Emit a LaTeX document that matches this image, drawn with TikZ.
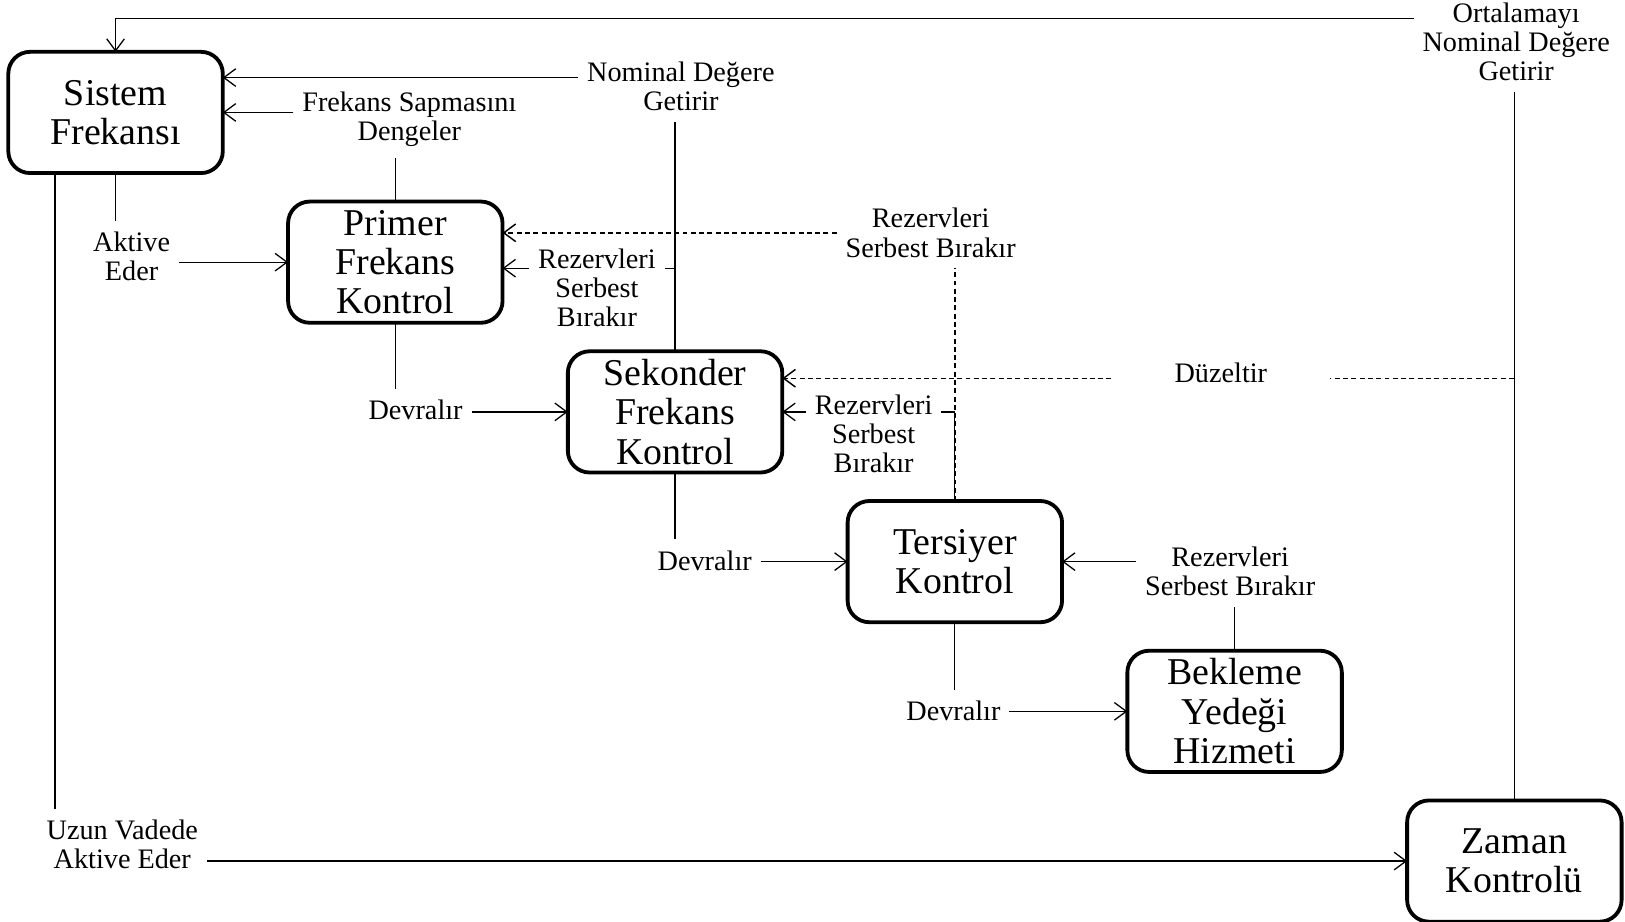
\documentclass[tikz,border=0pt]{standalone}
\usepackage{fontspec}
\setmainfont{Liberation Serif}
\usetikzlibrary{arrows.meta,positioning}

\begin{document}
\begin{tikzpicture}[x=0.02cm, y=-0.02cm, line width=0.7pt,
            kutu/.style={rectangle, draw=black, line width=2.1pt, rounded corners=0.42cm,
            minimum width=4.14cm, minimum height=2.34cm, inner sep=0pt, outer sep=0pt, align=center,
            font=\fontsize{20.8}{21.6}\selectfont},
            etiket/.style={align=center, inner xsep=0.16cm, inner ysep=0.2cm, anchor=base,
            font=\fontsize{15.5}{16}\selectfont},
            ok/.style={-{Straight Barb[length=2.3mm, width=3.4mm]}},
            kesik/.style={line width=0.8pt, dash pattern=on 0.95mm off 0.65mm}]
            \useasboundingbox (0,0) rectangle (1568,889);

            \node (sistem) [kutu] at (111.5,108.5) {Sistem\\Frekansı};
            \node (primer) [kutu, below right=0.55cm and 1.26cm of sistem] {Primer\\Frekans\\Kontrol};
            \node (sekonder) [kutu, below right=0.55cm and 1.26cm of primer] {Sekonder\\Frekans\\Kontrol};
            \node (tersiyer) [kutu, below right=0.55cm and 1.26cm of sekonder] {Tersiyer\\Kontrol};
            \node (bekleme) [kutu, below right=0.55cm and 1.26cm of tersiyer] {Bekleme\\Yedeği\\Hizmeti};
            \node (zaman) [kutu, below right=0.55cm and 1.26cm of bekleme] {Zaman\\Kontrolü};

            % etiketler: base = son satirin taban cizgisi
            \node (ortalama) [etiket] at (1463,78) {Ortalamayı\\Nominal Değere\\Getirir};
            \node (nominal) [etiket] at (657,107) {Nominal Değere\\Getirir};
            \node (sapma) [etiket] at (395,136) {Frekans Sapmasını\\Dengeler};
            \node (aktive) [etiket] at (127,271) {Aktive\\Eder};
            \node (rez1) [etiket] at (576,315) {Rezervleri\\Serbest\\Bırakır};
            \node (rez2) [etiket] at (898,248) {Rezervleri\\Serbest Bırakır};
            \node (duzeltir) [etiket, minimum width=4.2cm] at (1178,369) {Düzeltir};
            \node (rez3) [etiket] at (843,456) {Rezervleri\\Serbest\\Bırakır};
            \node (devr1) [etiket] at (401,405) {Devralır};
            \node (devr2) [etiket] at (680,550) {Devralır};
            \node (devr3) [etiket] at (920,695) {Devralır};
            \node (rez4) [etiket] at (1187,575) {Rezervleri\\Serbest Bırakır};
            \node (uzun) [etiket] at (118,838) {Uzun Vadede\\Aktive Eder};

            \coordinate (ortw) at ([yshift=32pt]ortalama.mid west);
            \coordinate (nomw) at ([yshift=16pt]nominal.mid west);
            \coordinate (rez1bw) at ([yshift=32pt]rez1.base west);
            \coordinate (rez1be) at ([yshift=32pt]rez1.base east);

            \draw [ok] (ortw) -| (sistem.north);
            \draw (zaman.north) -- (zaman.north |- ortalama.south);
            \draw [kesik] (zaman.north) -- (zaman.north |- duzeltir.mid east) -- (duzeltir.mid east);
            \draw [kesik, ok] (duzeltir.mid west) -- (sekonder.east |- duzeltir.mid west);

            \draw [ok] (nomw) -- (sistem.east |- nomw);
            \draw (sekonder.north) -- (sekonder.north |- nominal.south);
            \draw [ok] (sapma.west |- sistem.east) -- (sistem.east);
            \draw (primer.north) -- (primer.north |- sapma.south);
            \draw (sistem.south) -- (sistem.south |- aktive.north);
            \draw [ok] (aktive.east |- primer.west) -- (primer.west);

            \draw [ok] (rez1bw) -- (primer.east |- rez1bw);
            \draw (rez1be) -- (sekonder.north |- rez1be);
            \draw [kesik, ok] (rez2.west) -- (primer.east |- rez2.west);
            \draw [kesik] (tersiyer.north) -- (tersiyer.north |- rez2.south);
            \draw [ok] (rez3.west |- sekonder.east) -- (sekonder.east);
            \draw (tersiyer.north) -- (tersiyer.north |- sekonder.east) -- (rez3.east |- sekonder.east);
            \draw [ok] (rez4.west |- tersiyer.east) -- (tersiyer.east);
            \draw (bekleme.north) -- (bekleme.north |- rez4.south);

            \draw (primer.south) -- (primer.south |- devr1.north);
            \draw [ok] (devr1.east |- sekonder.west) -- (sekonder.west);
            \draw (sekonder.south) -- (sekonder.south |- devr2.north);
            \draw [ok] (devr2.east |- tersiyer.west) -- (tersiyer.west);
            \draw (tersiyer.south) -- (tersiyer.south |- devr3.north);
            \draw [ok] (devr3.east |- bekleme.west) -- (bekleme.west);

            \coordinate (uzunust) at ([xshift=-1.17cm]sistem.south);
            \draw (uzunust) -- (uzunust |- uzun.north);
            \draw [ok] (uzun.east |- zaman.west) -- (zaman.west);
        \end{tikzpicture}
\end{document}
